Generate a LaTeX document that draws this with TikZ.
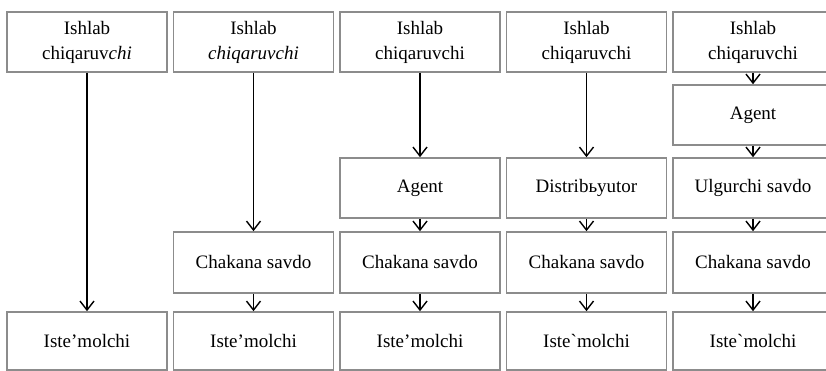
\documentclass[tikz,border=0pt]{standalone}
\usepackage{fontspec}
\setmainfont{Liberation Serif}
\usetikzlibrary{arrows.meta}
\begin{document}
\begin{tikzpicture}[x=1pt,y=-1pt,
  box/.style={draw=black!45, line width=1.6pt, minimum width=160pt,
    inner sep=0pt, align=center, font=\fontsize{19}{25}\selectfont},
  flow/.style={-{Straight Barb[length=9pt,width=14pt]}, line width=1.4pt}]
\useasboundingbox (0,0) rectangle (826,371);

% column 1
\node[box, minimum height=60pt] (p1) at (87,42) {Ishlab\\chiqaruv\textit{chi}};
\node[box, minimum height=58pt] (c1) at (87,341) {Iste’molchi};
\draw[flow] (p1) -- (c1);

% column 2
\node[box, minimum height=60pt] (p2) at (253.5,42) {Ishlab\\\textit{chiqaruvchi}};
\node[box, minimum height=61pt] (r2) at (253.5,262.5) {Chakana savdo};
\node[box, minimum height=58pt] (c2) at (253.5,341) {Iste’molchi};
\draw[flow] (p2) -- (r2);
\draw[flow] (r2) -- (c2);

% column 3
\node[box, minimum height=60pt] (p3) at (420,42) {Ishlab\\chiqaruvchi};
\node[box, minimum height=60pt] (a3) at (420,188) {Agent};
\node[box, minimum height=61pt] (r3) at (420,262.5) {Chakana savdo};
\node[box, minimum height=58pt] (c3) at (420,341) {Iste’molchi};
\draw[flow] (p3) -- (a3);
\draw[flow] (a3) -- (r3);
\draw[flow] (r3) -- (c3);

% column 4
\node[box, minimum height=60pt] (p4) at (586.5,42) {Ishlab\\chiqaruvchi};
\node[box, minimum height=60pt] (d4) at (586.5,188) {Distribьyutor};
\node[box, minimum height=61pt] (r4) at (586.5,262.5) {Chakana savdo};
\node[box, minimum height=58pt] (c4) at (586.5,341) {Iste\textasciigrave molchi};
\draw[flow] (p4) -- (d4);
\draw[flow] (d4) -- (r4);
\draw[flow] (r4) -- (c4);

% column 5
\node[box, minimum height=60pt] (p5) at (753,42) {Ishlab\\chiqaruvchi};
\node[box, minimum height=60pt] (a5) at (753,115) {Agent};
\node[box, minimum height=60pt] (u5) at (753,188) {Ulgurchi savdo};
\node[box, minimum height=61pt] (r5) at (753,262.5) {Chakana savdo};
\node[box, minimum height=58pt] (c5) at (753,341) {Iste\textasciigrave molchi};
\draw[flow] (p5) -- (a5);
\draw[flow] (a5) -- (u5);
\draw[flow] (u5) -- (r5);
\draw[flow] (r5) -- (c5);
\end{tikzpicture}
\end{document}
